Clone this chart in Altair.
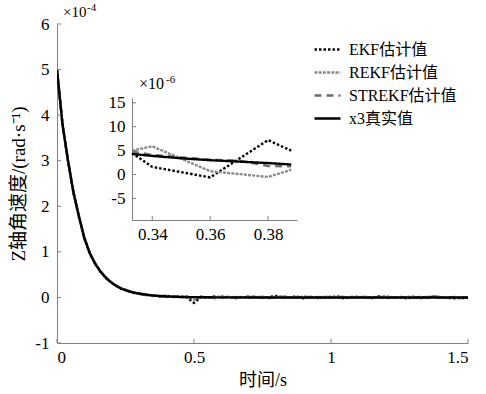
import altair as alt
import pandas as pd

# ---------------- data (values in units of the axis multipliers) ----------------
series_names = ["EKF估计值", "REKF估计值", "STREKF估计值", "x3真实值"]

t_main = [0.00, 0.02, 0.04, 0.06, 0.08, 0.10, 0.12, 0.14, 0.16, 0.18, 0.20, 0.22, 0.24,
          0.25, 0.275, 0.30, 0.325, 0.35, 0.375, 0.40, 0.425, 0.45, 0.475,
          0.50, 0.525, 0.55, 0.575, 0.60, 0.625, 0.65, 0.675, 0.70, 0.725,
          0.75, 0.775, 0.80, 0.825, 0.85, 0.875, 0.90, 0.925, 0.95, 0.975,
          1.00, 1.025, 1.05, 1.075, 1.10, 1.125, 1.15, 1.175, 1.20, 1.225,
          1.25, 1.275, 1.30, 1.325, 1.35, 1.375, 1.40, 1.425, 1.45, 1.475, 1.50]

ekf_main = [5.00, 3.82, 2.98, 2.32, 1.76, 1.31, 0.95, 0.74, 0.55, 0.43, 0.31, 0.25, 0.17,
            0.17, 0.10, 0.09, 0.05, 0.05, 0.02, 0.04, 0.01, 0.02, 0.00,
            -0.12, 0.01, -0.01, 0.02, 0.00, 0.01, -0.02, 0.01, 0.00, 0.02,
            -0.01, 0.01, 0.03, -0.01, 0.00, 0.02, -0.02, 0.01, 0.00, -0.01,
            0.02, 0.00, -0.02, 0.01, 0.01, -0.01, 0.00, 0.02, -0.01, 0.00,
            0.01, -0.02, 0.00, 0.01, -0.01, 0.02, 0.00, -0.01, -0.02, 0.00, -0.01]

rekf_main = [5.02, 3.78, 3.03, 2.28, 1.80, 1.28, 0.98, 0.71, 0.57, 0.41, 0.33, 0.23, 0.19,
             0.15, 0.12, 0.07, 0.07, 0.03, 0.04, 0.01, 0.03, 0.00, 0.02,
             -0.05, 0.02, 0.00, -0.02, 0.03, 0.00, 0.01, -0.01, 0.03, 0.00,
             0.02, -0.02, 0.01, 0.03, 0.00, -0.01, 0.02, 0.01, -0.02, 0.02,
             0.00, 0.03, 0.01, -0.01, 0.00, 0.02, -0.02, 0.01, 0.03, 0.00,
             -0.01, 0.01, 0.02, -0.02, 0.00, 0.03, 0.01, -0.01, 0.00, -0.03, 0.01]

strekf_main = [4.99, 3.81, 3.00, 2.31, 1.77, 1.29, 0.96, 0.74, 0.55, 0.42, 0.32, 0.24, 0.18,
               0.16, 0.11, 0.08, 0.06, 0.04, 0.03, 0.02, 0.02, 0.01, 0.01,
               -0.03, 0.01, 0.00, 0.01, -0.01, 0.01, 0.00, 0.01, -0.01, 0.00,
               0.01, 0.00, -0.01, 0.01, 0.00, 0.01, -0.01, 0.00, 0.01, 0.00,
               -0.01, 0.01, 0.00, 0.00, 0.01, -0.01, 0.00, 0.01, 0.00, -0.01,
               0.01, 0.00, -0.01, 0.00, 0.01, 0.00, -0.01, 0.00, 0.01, -0.01, 0.00]

x3_main = [5.00, 3.80, 3.01, 2.30, 1.78, 1.30, 0.97, 0.73, 0.56, 0.42, 0.32, 0.24, 0.18,
           0.16, 0.115, 0.085, 0.060, 0.042, 0.030, 0.022, 0.016, 0.011, 0.008,
           0.006, 0.004, 0.003, 0.002, 0.002, 0.001, 0.001, 0.001, 0.0, 0.0,
           0.0, 0.0, 0.0, 0.0, 0.0, 0.0, 0.0, 0.0, 0.0, 0.0,
           0.0, 0.0, 0.0, 0.0, 0.0, 0.0, 0.0, 0.0, 0.0, 0.0,
           0.0, 0.0, 0.0, 0.0, 0.0, 0.0, 0.0, 0.0, 0.0, 0.0, 0.0]

# inset (x 1e-6)
t_in = [0.333, 0.340, 0.350, 0.360, 0.370, 0.380, 0.388]
ekf_in = [4.5, 1.6, 0.5, -0.6, 3.3, 7.2, 5.0]
rekf_in = [5.0, 5.9, 3.3, 0.7, 0.1, -0.5, 1.0]
strekf_in = [4.8, 4.1, 3.6, 3.1, 2.9, 1.8, 1.7]
x3_in = [4.3, 3.9, 3.4, 3.0, 2.7, 2.4, 2.1]

main_x_ticks = [0, 0.5, 1, 1.5]
main_y_ticks = [-1, 0, 1, 2, 3, 4, 5, 6]
inset_x_ticks = [0.34, 0.36, 0.38]
inset_y_ticks = [-5, 0, 5, 10, 15]

# ---------------- styling ----------------
W, H = 411, 319
FONT = "'Liberation Serif', 'Noto Sans CJK SC', serif"
AX = "#808080"
colors = ["#000000", "#8a8a8a", "#6f6f6f", "#000000"]
dashes = [[2.5, 2], [3, 1.2], [7, 5], [1, 0]]
widths = [2.4, 2.4, 2.4, 3.0]


def long_df(t, cols):
    rows = []
    for name, vals in zip(series_names, cols):
        for ti, vi in zip(t, vals):
            rows.append({"t": ti, "v": vi, "series": name})
    return pd.DataFrame(rows)


df_main = long_df(t_main, [ekf_main, rekf_main, strekf_main, x3_main])
df_in = long_df(t_in, [ekf_in, rekf_in, strekf_in, x3_in])

legend = alt.Legend(title=None, orient="none", legendX=256, legendY=11,
                    symbolType="stroke", symbolSize=676, symbolStrokeWidth=2,
                    labelFont=FONT, labelFontSize=16, labelColor="black",
                    labelOffset=7, rowPadding=0, padding=0)
color_enc = alt.Color("series:N", scale=alt.Scale(domain=series_names, range=colors), legend=legend)
dash_enc = alt.StrokeDash("series:N", scale=alt.Scale(domain=series_names, range=dashes), legend=legend)
width_enc = alt.StrokeWidth("series:N", scale=alt.Scale(domain=series_names, range=widths), legend=None)

lab = dict(labelFont=FONT, labelFontSize=17, labelColor="black", domainColor=AX,
           ticks=False, tickSize=0, grid=False, labelExpr="'' + datum.value")

main_x = alt.X("t:Q", scale=alt.Scale(domain=[0, 1.5], nice=False, zero=False),
               axis=alt.Axis(values=main_x_ticks, title="时间/s", titleFont=FONT,
                             titleFontSize=18, titleFontWeight="normal", titleColor="black",
                             labelPadding=6, titlePadding=6, **lab))
main_y = alt.Y("v:Q", scale=alt.Scale(domain=[-1, 6], nice=False, zero=False),
               axis=alt.Axis(values=main_y_ticks, title="Z轴角速度/(rad·s⁻¹)", titleFont=FONT,
                             titleFontSize=19, titleFontWeight="normal", titleColor="black",
                             labelPadding=8, titlePadding=6, **lab))

main_lines = alt.Chart(df_main).mark_line(clip=True).encode(
    x=main_x, y=main_y, color=color_enc, strokeDash=dash_enc, strokeWidth=width_enc)

main_xt = alt.Chart(pd.DataFrame({"t": main_x_ticks})).mark_rule(color=AX).encode(
    x=main_x, y=alt.value(H), y2=alt.value(H - 4))
main_yt = alt.Chart(pd.DataFrame({"v": main_y_ticks})).mark_rule(color=AX).encode(
    y=main_y, x=alt.value(0), x2=alt.value(4))

anchor_main = pd.DataFrame({"t": [0], "v": [6]})
main_exp1 = alt.Chart(anchor_main).mark_text(text="×10", align="left", baseline="alphabetic",
                                             dx=6, dy=-7, font=FONT, fontSize=15, color="black").encode(x=main_x, y=main_y)
main_exp2 = alt.Chart(anchor_main).mark_text(text="-4", align="left", baseline="alphabetic",
                                             dx=30, dy=-13, font=FONT, fontSize=11, color="black").encode(x=main_x, y=main_y)

main_layer = alt.layer(main_lines, main_xt, main_yt, main_exp1, main_exp2)

# inset
in_x = alt.X("t:Q", scale=alt.Scale(domain=[0.333, 0.39], range=[75, 240], nice=False, zero=False),
             axis=alt.Axis(orient="bottom", offset=-123, values=inset_x_ticks, title=None,
                           labelPadding=6, **lab))
in_y = alt.Y("v:Q", scale=alt.Scale(domain=[-9.5, 16], range=[196, 74], nice=False, zero=False),
             axis=alt.Axis(orient="left", offset=-75, values=inset_y_ticks, title=None,
                           labelPadding=7, **lab))

in_lines = alt.Chart(df_in).mark_line().encode(
    x=in_x, y=in_y, color=color_enc, strokeDash=dash_enc, strokeWidth=width_enc)
in_xt = alt.Chart(pd.DataFrame({"t": inset_x_ticks})).mark_rule(color=AX).encode(
    x=in_x, y=alt.value(196), y2=alt.value(192))
in_yt = alt.Chart(pd.DataFrame({"v": inset_y_ticks})).mark_rule(color=AX).encode(
    y=in_y, x=alt.value(75), x2=alt.value(79))
anchor_in = pd.DataFrame({"t": [0.333], "v": [16]})
in_exp1 = alt.Chart(anchor_in).mark_text(text="×10", align="left", baseline="alphabetic",
                                         dx=7, dy=-9, font=FONT, fontSize=16, color="black").encode(x=in_x, y=in_y)
in_exp2 = alt.Chart(anchor_in).mark_text(text="-6", align="left", baseline="alphabetic",
                                         dx=34, dy=-15, font=FONT, fontSize=11, color="black").encode(x=in_x, y=in_y)

inset_layer = alt.layer(in_lines, in_xt, in_yt, in_exp1, in_exp2)

chart = alt.layer(main_layer, inset_layer).resolve_scale(
    x="independent", y="independent"
).properties(
    width=W, height=H,
    autosize=alt.AutoSizeParams(type="none"),
    padding={"left": 57, "top": 24, "right": 18, "bottom": 51},
    background="white",
).configure_view(stroke=None)

chart.save("out.html", embed_options={"renderer": "svg", "actions": False})
